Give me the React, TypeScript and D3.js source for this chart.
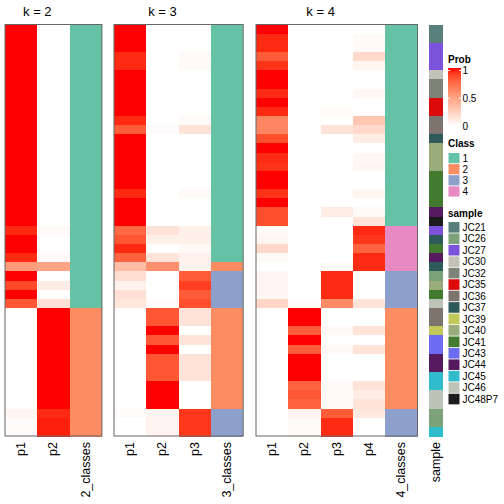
import React from "react";
import * as d3 from "d3";

// ---- data (45 samples, same row order in every panel) ----
const k2_p1 = [1,1,1,1,1,1,1,1,1,1,1,1,1,1,1,1,1,1,1,1,1,1,0.95,1,1,0.95,0.52,1,0.87,1,0.82,0,0,0,0,0,0,0,0,0,0,0,0.05,0.02,0.02];
const k2_p2 = [0,0,0,0,0,0,0,0,0,0,0,0,0,0,0,0,0,0,0,0,0,0,0.03,0,0,0.03,0.48,0,0.1,0,0.16,1,1,1,1,1,1,1,1,1,1,1,0.95,0.97,0.97];
const k2_cls = [1,1,1,1,1,1,1,1,1,1,1,1,1,1,1,1,1,1,1,1,1,1,1,1,1,1,1,1,1,1,1,2,2,2,2,2,2,2,2,2,2,2,2,2,2];

const k3_p1 = [1,1,1,0.95,0.95,1,1,1,1,1,0.95,0.8,1,1,1,1,1,1,0.95,1,1,1,0.75,0.82,0.95,0.78,0.35,0.18,0.07,0.17,0.13,0,0,0,0,0,0,0,0,0,0,0,0.02,0,0];
const k3_p2 = [0,0,0,0,0,0,0,0,0,0,0,0.02,0,0,0,0,0,0,0,0,0,0,0.15,0.08,0,0.15,0.58,0,0,0,0.02,0.82,0.82,1,0.82,1,0.82,0.82,0.82,1,1,1,0.06,0.06,0.06];
const k3_p3 = [0,0,0,0.03,0.03,0,0,0,0,0,0.03,0.15,0,0,0,0,0,0,0.03,0,0,0,0.08,0.08,0.04,0.07,0.07,0.8,0.9,0.8,0.85,0.15,0.15,0,0.15,0,0.15,0.15,0.15,0,0,0,0.92,0.92,0.92];
const k3_cls = [1,1,1,1,1,1,1,1,1,1,1,1,1,1,1,1,1,1,1,1,1,1,1,1,1,1,2,3,3,3,3,2,2,2,2,2,2,2,2,2,2,2,3,3,3];

const k4_p1 = [1,0.95,0.95,0.8,0.93,1,1,0.95,1,0.95,0.63,0.63,0.85,1,0.95,0.93,1,1,0.93,1,0.85,0.85,0.03,0.05,0.2,0.03,0,0.05,0.05,0.05,0.22,0,0,0,0,0,0,0,0,0,0,0,0,0,0];
const k4_p2 = [0,0,0,0,0,0,0,0,0,0,0,0,0,0,0,0,0,0,0,0,0,0,0,0,0,0,0,0,0,0,0.02,1,1,0.8,1,0.8,1,1,1,0.78,0.82,0.78,0.06,0.03,0.03];
const k4_p3 = [0,0,0,0,0,0,0,0,0,0.03,0,0.15,0,0,0,0,0,0,0,0,0.1,0,0,0,0,0,0.03,0.95,0.95,0.95,0.6,0,0,0.03,0,0.03,0,0,0,0.03,0.03,0.03,0.8,0.95,0.95];
const k4_p4 = [0,0.03,0.03,0.2,0.05,0,0,0.04,0,0,0.3,0.2,0.1,0,0.04,0.05,0,0,0.05,0,0.03,0.15,0.95,0.92,0.78,0.95,0.95,0,0,0,0.15,0,0,0.15,0,0.15,0,0,0,0.15,0.1,0.15,0.12,0,0];
const k4_cls = [1,1,1,1,1,1,1,1,1,1,1,1,1,1,1,1,1,1,1,1,1,1,4,4,4,4,4,3,3,3,3,2,2,2,2,2,2,2,2,2,2,2,3,3,3];

const sampleRows = ["JC21","JC21","JC27","JC27","JC27","JC30","JC32","JC32","JC35","JC35","JC36","JC36","JC37","JC40","JC40","JC40","JC41","JC41","JC41","JC41","JC44","JC48P7","JC27","JC37","JC41","JC44","JC37","JC26","JC40","JC41","JC46","JC36","JC36","JC39","JC43","JC43","JC44","JC44","JC45","JC45","JC46","JC46","JC26","JC26","JC45"];

const sampleNames = ["JC21","JC26","JC27","JC30","JC32","JC35","JC36","JC37","JC39","JC40","JC41","JC43","JC44","JC45","JC46","JC48P7"];
const sampleColors = ["#587f7c","#7ba278","#7b52dc","#c2c2b6","#7e8378","#dc0a0a","#7d746e","#2e5a5a","#c3c85a","#9aac7c","#427a30","#6c6cf0","#561a60","#30bccc","#bcc4b8","#1c1c1e"];

const classLabels = ["1","2","3","4"];
const classColors = ["#66c2a5","#fc8d62","#8da0cb","#e78ac3"];
const probTicks = [0, 0.5, 1];

const panels = [
  { title: "k = 2", x0: 5, probs: [k2_p1, k2_p2], cls: k2_cls, clsName: "2_classes" },
  { title: "k = 3", x0: 114, probs: [k3_p1, k3_p2, k3_p3], cls: k3_cls, clsName: "3_classes" },
  { title: "k = 4", x0: 256, probs: [k4_p1, k4_p2, k4_p3, k4_p4], cls: k4_cls, clsName: "4_classes" },
];

const FONT = "'Liberation Sans', Arial, Helvetica, sans-serif";
const COLW = 32.3;
const TOP = 24.5;
const BOTTOM = 436;

export default function App() {
  const n = sampleRows.length;
  const y = d3.scaleBand<number>().domain(d3.range(n)).range([TOP, BOTTOM]).padding(0);
  const probColor = d3.scaleLinear<string>().domain([0, 1]).range(["#ffffff", "#ff0000"]).interpolate(d3.interpolateLab);
  const clsColor = d3.scaleOrdinal<number, string>().domain([1, 2, 3, 4]).range(classColors);
  const smpColor = d3.scaleOrdinal<string, string>().domain(sampleNames).range(sampleColors);
  const legY = d3.scaleLinear().domain([0, 1]).range([126, 70.5]);
  const gradStops = d3.range(0, 1.0001, 0.1);

  return (
    <svg width={504} height={504} style={{ position: "absolute", left: 0, top: 0 }} fontFamily={FONT}>
      <defs>
        <linearGradient id="probGrad" x1="0" y1="1" x2="0" y2="0">
          {gradStops.map((t) => (
            <stop key={t} offset={`${t * 100}%`} stopColor={probColor(t)} />
          ))}
        </linearGradient>
      </defs>
      {panels.map((p) => {
        const cols = [...p.probs.map((_, i) => `p${i + 1}`), p.clsName];
        const x = d3.scaleBand<string>().domain(cols).range([p.x0, p.x0 + COLW * cols.length]);
        const probW = COLW * p.probs.length;
        return (
          <g key={p.title}>
            <text x={p.x0 + probW / 2} y={15.5} fontSize={13} textAnchor="middle">{p.title}</text>
            <g shapeRendering="crispEdges">
              {p.probs.map((arr, ci) =>
                arr.map((v, ri) => (
                  <rect key={`${ci}-${ri}`} x={x(`p${ci + 1}`)} y={y(ri)} width={x.bandwidth() + 0.5} height={y.bandwidth() + 0.5} fill={probColor(v)} />
                ))
              )}
              {p.cls.map((c, ri) => (
                <rect key={`c-${ri}`} x={x(p.clsName)} y={y(ri)} width={x.bandwidth()} height={y.bandwidth() + 0.5} fill={clsColor(c)} />
              ))}
            </g>
            <rect x={p.x0} y={TOP} width={COLW * cols.length} height={BOTTOM - TOP} fill="none" stroke="#666" strokeWidth={1} />
            {cols.map((c) => (
              <text key={c} transform={`translate(${(x(c) as number) + x.bandwidth() / 2},442) rotate(-90)`} fontSize={12.5} textAnchor="end" dominantBaseline="central">{c}</text>
            ))}
          </g>
        );
      })}
      {/* sample annotation column */}
      <g shapeRendering="crispEdges">
        {sampleRows.map((s, ri) => (
          <rect key={`s-${ri}`} x={429} y={y(ri)} width={14} height={y.bandwidth() + 0.5} fill={smpColor(s)} />
        ))}
      </g>
      <text transform="translate(436,442) rotate(-90)" fontSize={12.5} textAnchor="end" dominantBaseline="central">sample</text>

      {/* Prob legend */}
      <text x={448} y={63} fontSize={10} fontWeight="bold">Prob</text>
      <rect x={448} y={68} width={13} height={58} fill="url(#probGrad)" />
      {probTicks.map((t) => (
        <g key={t}>
          {t > 0 && <line x1={448} x2={450} y1={legY(t)} y2={legY(t)} stroke="#fff" strokeWidth={1} />}
          {t > 0 && <line x1={459} x2={461} y1={legY(t)} y2={legY(t)} stroke="#fff" strokeWidth={1} />}
          <text x={462.5} y={legY(t)} fontSize={10} dominantBaseline="central">{t}</text>
        </g>
      ))}

      {/* Class legend */}
      <text x={448} y={147} fontSize={10} fontWeight="bold">Class</text>
      {classLabels.map((c, i) => (
        <g key={c}>
          <rect x={448.5} y={153 + i * 11.1} width={11} height={10.2} fill={classColors[i]} />
          <text x={462.5} y={153 + i * 11.1 + 5.3} fontSize={10} dominantBaseline="central">{c}</text>
        </g>
      ))}

      {/* sample legend */}
      <text x={448} y={217} fontSize={10} fontWeight="bold">sample</text>
      {sampleNames.map((s, i) => (
        <g key={s}>
          <rect x={448.5} y={222 + i * 11.45} width={11} height={10.6} fill={sampleColors[i]} />
          <text x={462.5} y={222 + i * 11.45 + 5.5} fontSize={10} dominantBaseline="central">{s}</text>
        </g>
      ))}
    </svg>
  );
}
